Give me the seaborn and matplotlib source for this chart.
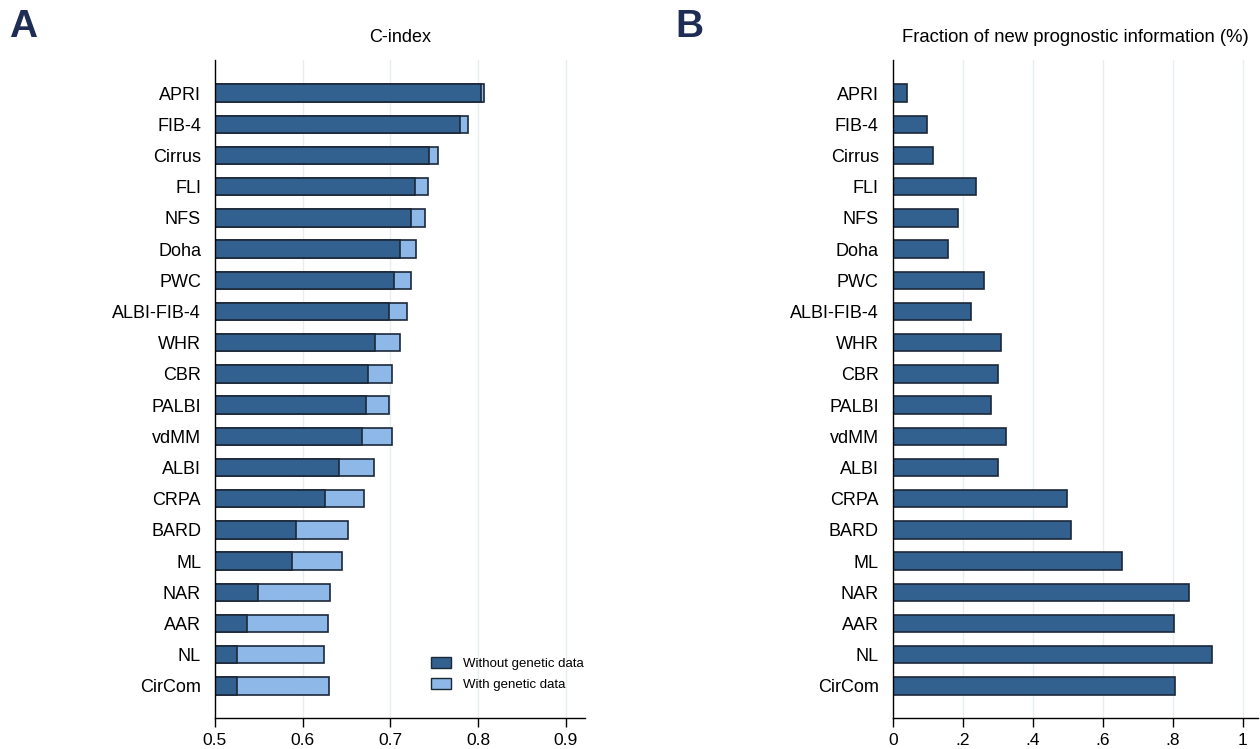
import matplotlib
matplotlib.use("Agg")
import matplotlib.pyplot as plt
import matplotlib.patches as mpatches
import seaborn as sns
import pandas as pd

scores = ["APRI", "FIB-4", "Cirrus", "FLI", "NFS", "Doha", "PWC", "ALBI-FIB-4",
          "WHR", "CBR", "PALBI", "vdMM", "ALBI", "CRPA", "BARD", "ML", "NAR",
          "AAR", "NL", "CirCom"]
cindex_without = [0.803, 0.779, 0.744, 0.728, 0.723, 0.711, 0.704, 0.698,
                  0.682, 0.674, 0.672, 0.668, 0.641, 0.625, 0.592, 0.588,
                  0.549, 0.536, 0.525, 0.525]
cindex_with = [0.807, 0.789, 0.754, 0.743, 0.739, 0.729, 0.723, 0.719,
               0.711, 0.702, 0.698, 0.702, 0.681, 0.670, 0.652, 0.645,
               0.631, 0.629, 0.624, 0.630]
new_info = [0.042, 0.097, 0.114, 0.237, 0.186, 0.157, 0.260, 0.225,
            0.310, 0.301, 0.280, 0.324, 0.302, 0.498, 0.511, 0.655,
            0.846, 0.803, 0.914, 0.807]

df = pd.DataFrame({"score": scores, "without": cindex_without,
                   "with": cindex_with, "frac": new_info})

dark = "#33618f"
light = "#8db8e8"
edge = "#1b2838"
grid_col = "#e6eef1"

sns.set_theme(style="white")
plt.rcParams["font.family"] = ["Liberation Sans", "DejaVu Sans"]
plt.rcParams["text.color"] = "black"
plt.rcParams["xtick.color"] = "black"
plt.rcParams["ytick.color"] = "black"

fig = plt.figure(figsize=(12.6, 7.49), dpi=100)
axA = fig.add_axes([0.1706, 0.0414, 0.2937, 0.8785])
axB = fig.add_axes([0.7085, 0.0414, 0.2899, 0.8785])

# panel A: with genetic data behind, without on top
sns.barplot(data=df, y="score", x="with", orient="h", color=light,
            edgecolor=edge, linewidth=1.2, width=0.56, saturation=1, ax=axA)
sns.barplot(data=df, y="score", x="without", orient="h", color=dark,
            edgecolor=edge, linewidth=1.2, width=0.56, saturation=1, ax=axA)
axA.set_xlim(0.5, 0.922)
axA.set_xticks([0.5, 0.6, 0.7, 0.8, 0.9])
axA.set_xticklabels(["0.5", "0.6", "0.7", "0.8", "0.9"])
axA.set_title("C-index", fontsize=13, pad=13)
for g in [0.6, 0.7, 0.8, 0.9]:
    axA.axvline(g, color=grid_col, lw=1, zorder=0)
handles = [mpatches.Patch(facecolor=dark, edgecolor=edge, label="Without genetic data"),
           mpatches.Patch(facecolor=light, edgecolor=edge, label="With genetic data")]
axA.legend(handles=handles, loc="lower right", bbox_to_anchor=(1.025, 0.025),
           frameon=False, fontsize=9.5, handlelength=1.5, handleheight=0.9,
           handletextpad=0.9, labelspacing=0.6, borderpad=0.3)

# panel B
sns.barplot(data=df, y="score", x="frac", orient="h", color=dark,
            edgecolor=edge, linewidth=1.2, width=0.56, saturation=1, ax=axB)
axB.set_xlim(0, 1.044)
axB.set_xticks([0, 0.2, 0.4, 0.6, 0.8, 1.0])
axB.set_xticklabels(["0", ".2", ".4", ".6", ".8", "1"])
axB.set_title("Fraction of new prognostic information (%)", fontsize=13.3, pad=13)
for g in [0.2, 0.4, 0.6, 0.8, 1.0]:
    axB.axvline(g, color=grid_col, lw=1, zorder=0)

for ax in (axA, axB):
    ax.set_ylim(19 + 1.03, -1.06)
    ax.set_xlabel("")
    ax.set_ylabel("")
    ax.set_axisbelow(True)
    for s in ("top", "right"):
        ax.spines[s].set_visible(False)
    for s in ("left", "bottom"):
        ax.spines[s].set_color("black")
        ax.spines[s].set_linewidth(1.0)
    ax.tick_params(axis="y", length=0, labelsize=13, pad=10)
    ax.tick_params(axis="x", length=6.5, width=1, color="black", labelsize=12.5,
                   bottom=True, direction="out", pad=4)

fig.text(0.007, 0.964, "A", fontsize=28, fontweight="bold", color="#1f2d55",
         va="center", ha="left")
fig.text(0.536, 0.964, "B", fontsize=28, fontweight="bold", color="#1f2d55",
         va="center", ha="left")

fig.savefig("out.png", dpi=100)
